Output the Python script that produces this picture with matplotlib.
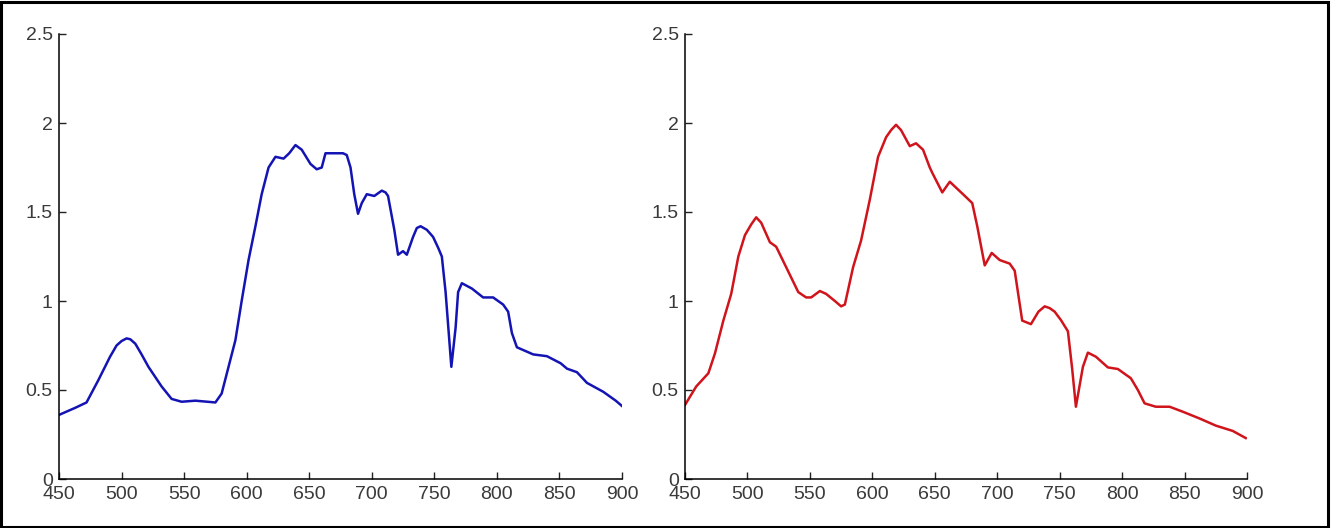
import matplotlib.pyplot as plt
from matplotlib.patches import Rectangle

# wavelength (nm) and values
blue_x = [450, 463, 472, 481.5, 490.8, 496, 500, 504, 507, 511, 516, 521.5, 532,
          540, 548, 559, 567, 575, 580, 585.5, 591, 596, 601.5, 607, 612,
          617.5, 623, 629.5, 634, 639, 644, 651, 656, 660, 663, 670, 677, 680,
          683, 686, 689, 692, 696, 702, 708, 711, 713, 718, 721, 725, 728, 733,
          736, 739, 744, 749, 753, 756, 759, 763.6, 767, 769, 772, 780, 789,
          797, 805, 809, 812, 816, 829, 840, 851, 856, 864, 872, 885, 895, 900]
blue_y = [0.36, 0.40, 0.43, 0.556, 0.687, 0.75, 0.775, 0.79, 0.785, 0.76, 0.70,
          0.63, 0.52, 0.45, 0.434, 0.44, 0.435, 0.43, 0.48, 0.63, 0.78, 1.0,
          1.23, 1.42, 1.60, 1.75, 1.81, 1.80, 1.83, 1.876, 1.85, 1.77, 1.74,
          1.75, 1.83, 1.83, 1.83, 1.82, 1.75, 1.60, 1.49, 1.55, 1.60, 1.59,
          1.62, 1.61, 1.59, 1.40, 1.26, 1.28, 1.26, 1.36, 1.41, 1.42, 1.40,
          1.36, 1.30, 1.25, 1.05, 0.63, 0.85, 1.05, 1.10, 1.07, 1.02, 1.02,
          0.98, 0.94, 0.82, 0.74, 0.70, 0.69, 0.65, 0.62, 0.60, 0.54, 0.49,
          0.44, 0.41]

red_x = [450, 459, 468.7, 474, 480.7, 487, 492.7, 498, 503, 507, 511, 518, 523,
         531, 540.7, 547, 551, 558, 563, 570, 575, 578, 584.6, 591, 598, 604.6,
         611, 615, 619, 623, 630, 635, 640.6, 646, 648, 656, 662, 672.6, 680,
         684, 690, 695.6, 702, 710, 714, 720, 727, 733, 738, 742, 746, 751,
         756.6, 760, 763, 768.6, 772.6, 779, 788.6, 796.6, 807, 812.6, 818,
         827, 838, 848.6, 862, 875, 888.6, 899]
red_y = [0.416, 0.52, 0.594, 0.706, 0.89, 1.04, 1.25, 1.37, 1.43, 1.47, 1.44,
         1.33, 1.305, 1.19, 1.05, 1.02, 1.02, 1.056, 1.04, 1.0, 0.97, 0.98,
         1.19, 1.34, 1.57, 1.81, 1.92, 1.96, 1.99, 1.96, 1.87, 1.886, 1.85,
         1.75, 1.72, 1.61, 1.67, 1.60, 1.55, 1.42, 1.20, 1.27, 1.23, 1.21,
         1.17, 0.89, 0.87, 0.94, 0.97, 0.96, 0.94, 0.893, 0.83, 0.62, 0.406,
         0.63, 0.71, 0.687, 0.627, 0.618, 0.566, 0.50, 0.425, 0.406, 0.406,
         0.378, 0.34, 0.30, 0.27, 0.23]

x_ticks = [450, 500, 550, 600, 650, 700, 750, 800, 850, 900]
y_ticks = [0, 0.5, 1, 1.5, 2, 2.5]
y_labels = ['0', '0.5', '1', '1.5', '2', '2.5']

plt.rcParams['font.family'] = ['Liberation Sans', 'DejaVu Sans']

fig = plt.figure(figsize=(13.31, 5.28), dpi=100)
fig.patch.set_facecolor('white')
fig.patches.append(Rectangle((0.001, 0.002), 0.997, 0.995, transform=fig.transFigure,
                             fill=False, edgecolor='black', linewidth=2.2))


def style_axes(ax):
    ax.set_xlim(450, 900)
    ax.set_ylim(0, 2.5)
    ax.set_xticks(x_ticks)
    ax.set_yticks(y_ticks)
    ax.set_yticklabels(y_labels)
    ax.spines['top'].set_visible(False)
    ax.spines['right'].set_visible(False)
    ax.spines['left'].set_linewidth(1.1)
    ax.spines['bottom'].set_linewidth(1.1)
    ax.tick_params(direction='in', length=5, width=1, labelsize=14,
                   colors='#222222', labelcolor='#3a3a3a')
    ax.tick_params(axis='x', pad=5)
    ax.tick_params(axis='y', pad=4.5)


ax1 = fig.add_axes([59 / 1331, 49 / 528, 563 / 1331, 445 / 528])
ax1.plot(blue_x, blue_y, color='#1414b4', linewidth=1.8)
style_axes(ax1)

ax2 = fig.add_axes([685 / 1331, 49 / 528, 562 / 1331, 445 / 528])
ax2.plot(red_x, red_y, color='#d0141c', linewidth=1.8)
style_axes(ax2)

fig.savefig('out.png', dpi=100)
